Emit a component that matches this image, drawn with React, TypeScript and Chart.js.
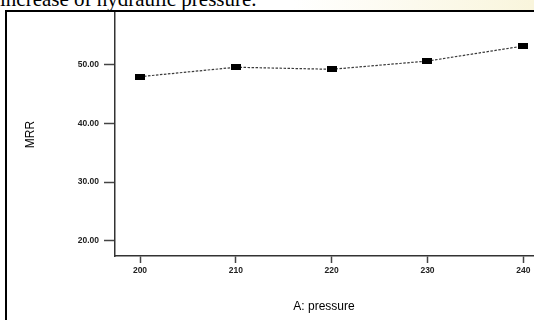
import React, { useEffect, useRef } from "react";
import { Chart, registerables } from "chart.js";

Chart.register(...registerables);

const pressure = [200, 210, 220, 230, 240];
const mrr = [47.9, 49.5, 49.15, 50.55, 53.1];
const xTicks = [200, 210, 220, 230, 240];
const yTicks = [20, 30, 40, 50];
const xTitle = "A: pressure";
const yTitle = "MRR";
const caption = "increase of hydraulic pressure.";

function makeMarker() {
  const c = document.createElement("canvas");
  c.width = 10;
  c.height = 6;
  const g = c.getContext("2d");
  if (g) {
    g.fillStyle = "#000";
    g.fillRect(0, 0, 10, 6);
  }
  return c;
}

function zeroPadding(scale: any) {
  scale.paddingTop = 0;
  scale.paddingBottom = 0;
  scale.paddingLeft = 0;
  scale.paddingRight = 0;
}

export default function App() {
  const ref = useRef<HTMLCanvasElement | null>(null);

  useEffect(() => {
    if (!ref.current) return;
    const marker = makeMarker();
    const tickFont = { family: "'Liberation Sans', Arial, sans-serif", size: 8.5, weight: "bold" as const };
    const titleFont = { family: "'Liberation Sans', Arial, sans-serif", size: 12 };
    const chart = new Chart(ref.current, {
      type: "line",
      data: {
        datasets: [
          {
            data: pressure.map((p, i) => ({ x: p, y: mrr[i] })),
            borderColor: "#3a3a3a",
            borderWidth: 1.2,
            borderDash: [2.5, 1.5],
            pointStyle: marker as any,
            pointRadius: 5,
            pointHoverRadius: 5,
            tension: 0,
            fill: false,
          },
        ],
      },
      options: {
        animation: false,
        responsive: false,
        maintainAspectRatio: false,
        events: [],
        layout: { autoPadding: false, padding: { top: 1, right: 1, left: 0, bottom: 0 } },
        plugins: { legend: { display: false }, tooltip: { enabled: false } },
        scales: {
          x: {
            type: "linear",
            min: 197.39,
            max: 241.01,
            afterBuildTicks: (axis: any) => {
              axis.ticks = xTicks.map((v) => ({ value: v }));
            },
            afterFit: (scale: any) => {
              scale.height = 64;
              zeroPadding(scale);
            },
            ticks: {
              font: tickFont,
              color: "#222",
              padding: 3,
              maxRotation: 0,
              callback: (v: any) => String(v),
            },
            grid: {
              drawOnChartArea: false,
              drawTicks: true,
              tickLength: 7,
              tickWidth: 1.5,
              tickColor: "#444",
            },
            border: { display: true, color: "#333", width: 1.5 },
            title: {
              display: true,
              text: xTitle,
              font: titleFont,
              color: "#000",
              padding: { top: 0, bottom: 6.4 },
            },
          },
          y: {
            type: "linear",
            min: 17.45,
            max: 58.71,
            afterBuildTicks: (axis: any) => {
              axis.ticks = yTicks.map((v) => ({ value: v }));
            },
            afterFit: (scale: any) => {
              scale.width = 108;
              zeroPadding(scale);
            },
            ticks: {
              font: tickFont,
              color: "#222",
              padding: 5,
              callback: (v: any) => Number(v).toFixed(2),
            },
            grid: {
              drawOnChartArea: false,
              drawTicks: true,
              tickLength: 11,
              tickWidth: 1.5,
              tickColor: "#444",
            },
            border: { display: true, color: "#333", width: 1.5 },
            title: {
              display: true,
              text: yTitle,
              font: titleFont,
              color: "#000",
              padding: { top: 16.4, bottom: 0 },
            },
          },
        },
      },
    });
    return () => chart.destroy();
  }, []);

  return (
    <div
      style={{
        position: "fixed",
        left: 0,
        top: 0,
        width: 534,
        height: 320,
        overflow: "hidden",
        background: "#fff",
      }}
    >
      <div
        style={{
          position: "absolute",
          left: 0,
          top: 0,
          width: 534,
          height: 10,
          background: "linear-gradient(to right, #ffffff 55%, #f9f5dc 100%)",
        }}
      />
      <div
        style={{
          position: "absolute",
          left: 0,
          top: -13,
          fontFamily: "'Liberation Serif', 'Times New Roman', serif",
          fontSize: 21,
          color: "#000",
          whiteSpace: "nowrap",
        }}
      >
        {caption}
      </div>
      <div
        style={{
          position: "absolute",
          left: 5,
          top: 10,
          width: 560,
          height: 340,
          border: "2px solid #000",
          background: "#fff",
          boxSizing: "border-box",
        }}
      />
      <div style={{ position: "absolute", left: 7, top: 12, width: 527, height: 308 }}>
        <canvas ref={ref} width={527} height={308} style={{ display: "block", width: 527, height: 308 }} />
      </div>
    </div>
  );
}
